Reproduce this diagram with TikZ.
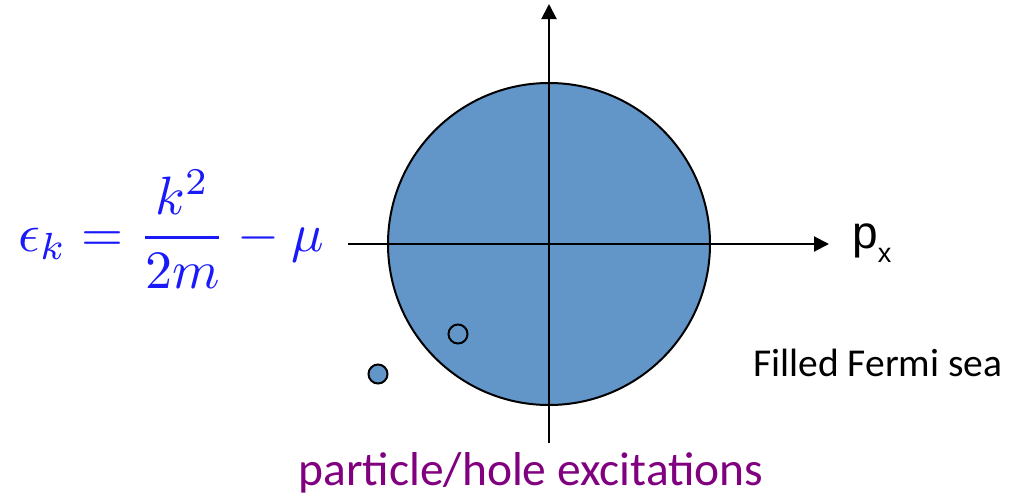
\RequirePackage{fix-cm}
\documentclass[tikz,border=0pt]{standalone}
\usepackage{fontspec}
\newfontfamily\calibri{Carlito}
\newfontfamily\arialf{Liberation Sans}
\usetikzlibrary{arrows.meta}
\definecolor{seablue}{RGB}{98,150,200}
\definecolor{eqblue}{RGB}{25,25,250}
\definecolor{excpurple}{RGB}{128,0,128}
\tikzset{
  axisline/.style={line width=2pt,-{Triangle[length=15pt,width=15pt]}},
  outline/.style={draw=black,line width=2pt},
}
\begin{document}
\begin{tikzpicture}[x=1pt,y=-1pt]
\useasboundingbox (0,0) rectangle (1017,496);
\node[outline,fill=seablue,circle,minimum size=322pt,inner sep=0pt] (sea) at (549,244) {};
\coordinate (xl) at (348,244);
\coordinate (xr) at (829,244);
\coordinate (yb) at (549,443);
\coordinate (yt) at (549,4);
\draw[axisline] (xl) -- (xr);
\draw[axisline] (yb) -- (yt);
\node[outline,circle,minimum size=19pt,inner sep=0pt] (hole) at (458,334) {};
\node[outline,fill=seablue,circle,minimum size=19pt,inner sep=0pt] (particle) at (378,374) {};
\node[anchor=base west,inner sep=0pt,text=eqblue,scale=5.4,transform shape] (eq) at (17,251) {$\displaystyle\epsilon_k = \frac{k^2}{2m} - \mu$};
\node[anchor=base west,inner sep=0pt,font=\arialf\fontsize{46}{50}\selectfont] (px) at (852,248) {p\raisebox{-14pt}{\fontsize{27}{30}\selectfont x}};
\node[anchor=base west,inner sep=0pt,font=\calibri\fontsize{39.5}{44}\selectfont] (fermi) at (753,376) {Filled Fermi sea};
\node[anchor=base,inner sep=0pt,text=excpurple,font=\calibri\fontsize{47.5}{52}\selectfont] (exc) at (531,485) {particle/hole excitations};
\end{tikzpicture}
\end{document}
